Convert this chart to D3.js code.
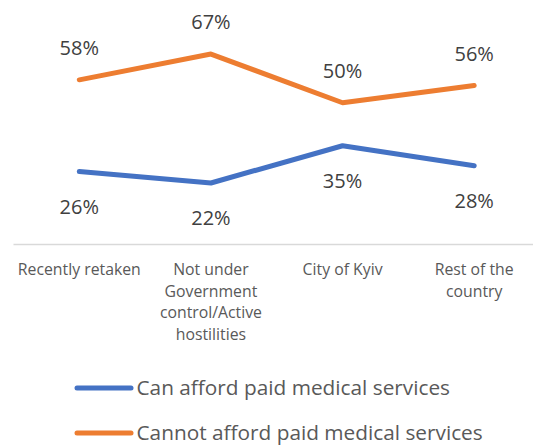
<!DOCTYPE html>
<html>
<head>
<meta charset="utf-8">
<script src="https://cdn.jsdelivr.net/npm/d3@7"></script>
<style>
  html, body { margin: 0; padding: 0; background: #fff; }
  svg { display: block; font-family: "Open Sans", sans-serif; }
</style>
</head>
<body>
<svg id="chart" width="533" height="446"></svg>
<script>
// Categories (tick labels split into wrapped lines)
const categories = ["Recently retaken", "Not under Government control/Active hostilities", "City of Kyiv", "Rest of the country"];
const categoryLines = [
  ["Recently retaken"],
  ["Not under", "Government", "control/Active", "hostilities"],
  ["City of Kyiv"],
  ["Rest of the", "country"]
];
const seriesNames = ["Can afford paid medical services", "Cannot afford paid medical services"];
const canAfford = [26, 22, 35, 28];
const cannotAfford = [58, 67, 50, 56];
const seriesColors = ["#4472C4", "#ED7D31"];

const svg = d3.select("#chart");

const x = d3.scaleBand().domain(categories).range([13.5, 540]);
const y = d3.scaleLinear().domain([0, 80]).range([246, 16.8]);

// Category axis baseline
svg.append("line")
  .attr("x1", x.range()[0]).attr("x2", x.range()[1])
  .attr("y1", 244.5).attr("y2", 244.5)
  .attr("stroke", "#d9d9d9").attr("stroke-width", 1.5);

// Category labels
const catG = svg.append("g").attr("fill", "#595959").attr("font-size", 15.8);
categories.forEach((c, i) => {
  const t = catG.append("text")
    .attr("text-anchor", "middle")
    .attr("x", x(c) + x.bandwidth() / 2)
    .attr("y", 275);
  categoryLines[i].forEach((ln, j) => {
    t.append("tspan")
      .attr("x", x(c) + x.bandwidth() / 2)
      .attr("dy", j === 0 ? 0 : 21.6)
      .text(ln);
  });
});

const line = d3.line()
  .x((d, i) => x(categories[i]) + x.bandwidth() / 2)
  .y(d => y(d));

const series = [
  { name: seriesNames[0], values: canAfford, color: seriesColors[0], labelDy: 42 },
  { name: seriesNames[1], values: cannotAfford, color: seriesColors[1], labelDy: -25 }
];

series.forEach(s => {
  svg.append("path")
    .datum(s.values)
    .attr("d", line)
    .attr("fill", "none")
    .attr("stroke", s.color)
    .attr("stroke-width", 5)
    .attr("stroke-linecap", "round")
    .attr("stroke-linejoin", "round");

  svg.append("g").selectAll("text")
    .data(s.values)
    .join("text")
    .attr("x", (d, i) => x(categories[i]) + x.bandwidth() / 2)
    .attr("y", d => y(d) + s.labelDy)
    .attr("text-anchor", "middle")
    .attr("font-size", 20)
    .attr("fill", "#404040")
    .text(d => d + "%");
});

// Legend
const legend = svg.append("g");
series.forEach((s, i) => {
  const ly = 388 + i * 45;
  legend.append("line")
    .attr("x1", 77).attr("x2", 131)
    .attr("y1", ly).attr("y2", ly)
    .attr("stroke", s.color).attr("stroke-width", 5)
    .attr("stroke-linecap", "round");
  legend.append("text")
    .attr("x", 136.5).attr("y", ly + 7)
    .attr("font-size", 20.8)
    .attr("fill", "#595959")
    .text(s.name);
});
</script>
</body>
</html>
